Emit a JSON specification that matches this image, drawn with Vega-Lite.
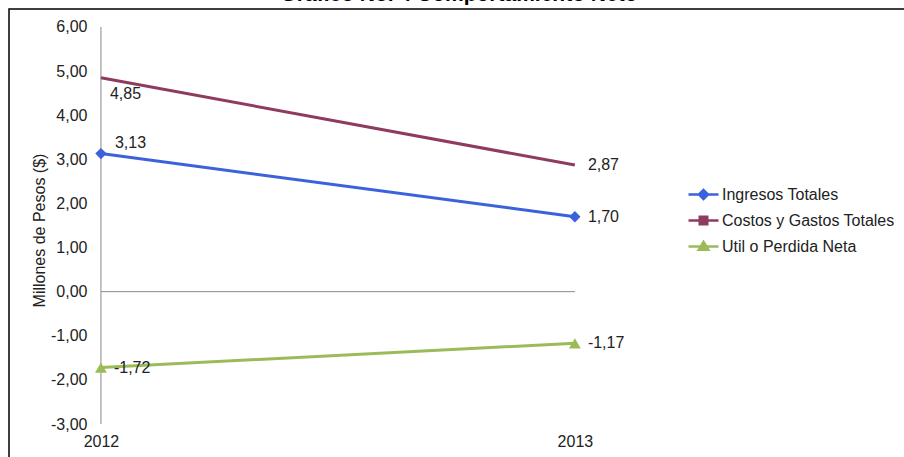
{
  "$schema": "https://vega.github.io/schema/vega-lite/v6.json",
  "width": 900,
  "height": 460,
  "autosize": "none",
  "padding": {"left": 9, "top": 9, "right": 0, "bottom": 0},
  "background": "white",
  "config": {
    "view": {"stroke": "black", "strokeWidth": 1.5},
    "font": "Liberation Sans",
    "locale": {"number": {"decimal": ",", "thousands": ".", "grouping": [3], "currency": ["$", ""], "minus": "-"}}
  },
  "title": {
    "text": "Gráfico No. 4 Comportamiento Neto",
    "fontSize": 21,
    "fontWeight": "bold",
    "font": "Liberation Sans",
    "anchor": "middle",
    "frame": "group",
    "offset": 0,
    "dy": 13,
    "baseline": "alphabetic",
    "color": "black"
  },
  "datasets": {
    "series": [
      {"year": 2012, "serie": "Ingresos Totales", "value": 3.13},
      {"year": 2013, "serie": "Ingresos Totales", "value": 1.70},
      {"year": 2012, "serie": "Costos y Gastos Totales", "value": 4.85},
      {"year": 2013, "serie": "Costos y Gastos Totales", "value": 2.87},
      {"year": 2012, "serie": "Util o Perdida Neta", "value": -1.72},
      {"year": 2013, "serie": "Util o Perdida Neta", "value": -1.17}
    ],
    "vaxis": [{"year": 2012, "lo": -3, "hi": 6}],
    "zero": [{"start": 2012, "end": 2013, "v": 0}]
  },
  "layer": [
    {
      "data": {"name": "series"},
      "transform": [{"filter": "false"}],
      "mark": {"type": "point", "filled": false, "strokeWidth": 2.5, "size": 900, "opacity": 1},
      "encoding": {
        "color": {
          "field": "serie", "type": "nominal",
          "scale": {"domain": ["Ingresos Totales", "Costos y Gastos Totales", "Util o Perdida Neta"], "range": ["#3C62DB", "#8E3B5F", "#9BBB59"]},
          "legend": {
            "orient": "none", "legendX": 678, "legendY": 169, "title": null,
            "labelFontSize": 16, "labelFont": "Liberation Sans", "labelColor": "#222222", "labelLimit": 400,
            "symbolSize": 900, "symbolStrokeWidth": 2.5, "labelOffset": 2, "rowPadding": -2
          }
        },
        "shape": {
          "field": "serie", "type": "nominal",
          "scale": {
            "domain": ["Ingresos Totales", "Costos y Gastos Totales", "Util o Perdida Neta"],
            "range": [
              "M-1,0L1,0M-0.3,0L0,-0.3L0.3,0L0,0.3ZM-0.12,0L0,-0.12L0.12,0L0,0.12Z",
              "M-1,0L1,0M-0.25,-0.25L0.25,-0.25L0.25,0.25L-0.25,0.25ZM-0.1,-0.1L0.1,-0.1L0.1,0.1L-0.1,0.1Z",
              "M-1,0L1,0M-0.32,0.22L0,-0.3L0.32,0.22ZM-0.12,0.1L0,-0.08L0.12,0.1Z"
            ]
          }
        }
      }
    },
    {
      "data": {"name": "vaxis"},
      "mark": {"type": "rule", "color": "#8a8a8a", "strokeWidth": 1},
      "encoding": {
        "x": {"field": "year", "type": "quantitative", "scale": {"domain": [2011.806, 2013.705], "nice": false, "zero": false}},
        "y": {"field": "lo", "type": "quantitative", "scale": {"domain": [-4.02, 6.408], "nice": false, "zero": false}},
        "y2": {"field": "hi"}
      }
    },
    {
      "data": {"name": "zero"},
      "mark": {"type": "rule", "color": "#8a8a8a", "strokeWidth": 1},
      "encoding": {
        "x": {"field": "start", "type": "quantitative"},
        "x2": {"field": "end"},
        "y": {"field": "v", "type": "quantitative"}
      }
    },
    {
      "data": {"name": "series"},
      "mark": {"type": "line", "strokeWidth": 3},
      "encoding": {
        "x": {
          "field": "year", "type": "quantitative",
          "axis": {"orient": "bottom", "offset": -45, "values": [2012, 2013], "format": "d", "domain": false, "ticks": false, "grid": false, "title": null, "labelFontSize": 16, "labelPadding": 9, "labelColor": "#222222", "labelFont": "Liberation Sans"}
        },
        "y": {
          "field": "value", "type": "quantitative",
          "axis": {"orient": "left", "offset": -92, "values": [-3, -2, -1, 0, 1, 2, 3, 4, 5, 6], "format": ".2f", "domain": false, "ticks": false, "grid": false, "labelFontSize": 16, "labelPadding": 14, "labelColor": "#222222", "labelFont": "Liberation Sans", "title": "Millones de Pesos ($)", "titleFontSize": 16, "titleFontWeight": "normal", "titleColor": "#222222", "titleFont": "Liberation Sans", "titlePadding": 3, "titleY": 221}
        },
        "color": {"field": "serie", "type": "nominal"}
      }
    },
    {
      "data": {"name": "series"},
      "transform": [{"filter": "datum.serie === 'Ingresos Totales'"}],
      "mark": {"type": "point", "filled": true, "shape": "diamond", "size": 130, "opacity": 1},
      "encoding": {
        "x": {"field": "year", "type": "quantitative"},
        "y": {"field": "value", "type": "quantitative"},
        "color": {"field": "serie", "type": "nominal"}
      }
    },
    {
      "data": {"name": "series"},
      "transform": [{"filter": "datum.serie === 'Util o Perdida Neta'"}],
      "mark": {"type": "point", "filled": true, "shape": "triangle-up", "size": 140, "opacity": 1},
      "encoding": {
        "x": {"field": "year", "type": "quantitative"},
        "y": {"field": "value", "type": "quantitative"},
        "color": {"field": "serie", "type": "nominal"}
      }
    },
    {
      "data": {"name": "series"},
      "transform": [{"filter": "!(datum.year === 2012 && datum.serie !== 'Util o Perdida Neta')"}],
      "mark": {"type": "text", "align": "left", "baseline": "middle", "dx": 13, "fontSize": 16, "font": "Liberation Sans", "color": "#222222"},
      "encoding": {
        "x": {"field": "year", "type": "quantitative"},
        "y": {"field": "value", "type": "quantitative"},
        "text": {"field": "value", "type": "quantitative", "format": ".2f"}
      }
    },
    {
      "data": {"name": "series"},
      "transform": [{"filter": "datum.year === 2012 && datum.serie === 'Ingresos Totales'"}],
      "mark": {"type": "text", "align": "left", "baseline": "middle", "dx": 14, "dy": -11, "fontSize": 16, "font": "Liberation Sans", "color": "#222222"},
      "encoding": {
        "x": {"field": "year", "type": "quantitative"},
        "y": {"field": "value", "type": "quantitative"},
        "text": {"field": "value", "type": "quantitative", "format": ".2f"}
      }
    },
    {
      "data": {"name": "series"},
      "transform": [{"filter": "datum.year === 2012 && datum.serie === 'Costos y Gastos Totales'"}],
      "mark": {"type": "text", "align": "left", "baseline": "middle", "dx": 9, "dy": 16, "fontSize": 16, "font": "Liberation Sans", "color": "#222222"},
      "encoding": {
        "x": {"field": "year", "type": "quantitative"},
        "y": {"field": "value", "type": "quantitative"},
        "text": {"field": "value", "type": "quantitative", "format": ".2f"}
      }
    }
  ]
}
